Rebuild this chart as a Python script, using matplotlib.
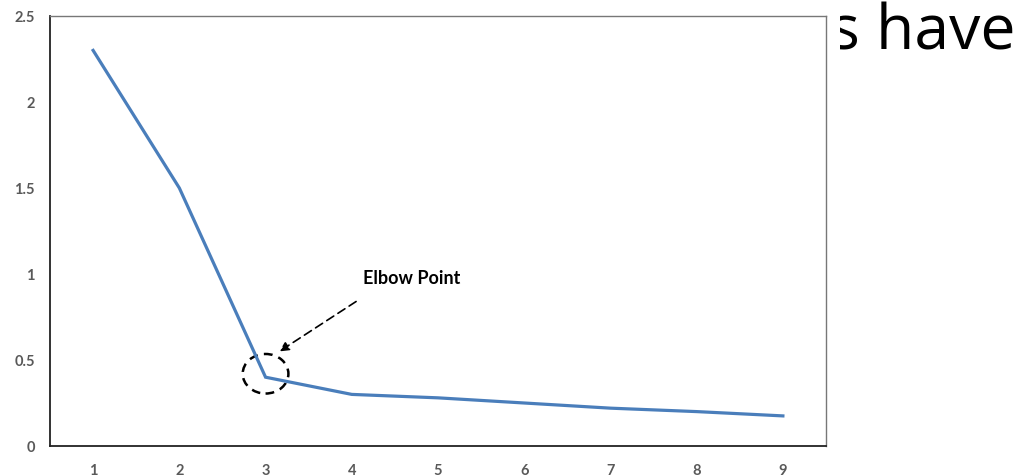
import matplotlib.pyplot as plt
from matplotlib.patches import Ellipse, Rectangle

# --------------------------------------
# DATA
# --------------------------------------

clusters = [1, 2, 3, 4, 5, 6, 7, 8, 9]
wcss = [2.3, 1.5, 0.4, 0.3, 0.28, 0.25, 0.22, 0.2, 0.175]
y_ticks = [0, 0.5, 1, 1.5, 2, 2.5]
y_tick_labels = ["0", "0.5", "1", "1.5", "2", "2.5"]

elbow_k = 3
elbow_wcss = 0.42

# --------------------------------------
# FIGURE
# --------------------------------------

fig = plt.figure(figsize=(10.25, 4.77), dpi=100)
fig.patch.set_facecolor("white")

# slide text sitting behind the chart image
fig.text(1015 / 1025, (477 - 49) / 477, "s have", fontsize=45, family="Open Sans",
         ha="right", va="baseline", color="black", zorder=-2)
fig.patches.append(Rectangle((0, 0), 840 / 1025, 1, transform=fig.transFigure,
                             facecolor="white", edgecolor="none", zorder=-1))

ax = fig.add_axes([50 / 1025, 30 / 477, 776 / 1025, 430 / 477])
ax.set_facecolor("white")

ax.plot(clusters, wcss, color="#4a7ebb", lw=2.3, solid_joinstyle="miter")

ax.set_xlim(0.5, 9.5)
ax.set_ylim(0, 2.5)
ax.set_xticks(clusters)
ax.set_yticks(y_ticks)
ax.set_yticklabels(y_tick_labels)
ax.tick_params(length=0, colors="#595959", labelsize=10.5)
ax.tick_params(axis="y", pad=11)
ax.tick_params(axis="x", pad=12)
for lab in ax.get_xticklabels() + ax.get_yticklabels():
    lab.set_family("Lato")
    lab.set_fontweight("bold")

for side in ["top", "right"]:
    ax.spines[side].set_color("#777777")
    ax.spines[side].set_linewidth(1.0)
for side in ["left", "bottom"]:
    ax.spines[side].set_color("#222222")
    ax.spines[side].set_linewidth(1.3)

# --------------------------------------
# ELBOW ANNOTATION
# --------------------------------------

ax.add_patch(Ellipse((elbow_k, elbow_wcss), 0.53, 0.23, fill=False,
                     edgecolor="black", lw=1.8, linestyle=(0, (3.5, 2.5))))

ax.annotate("", xy=(3.16, 0.55), xytext=(4.05, 0.84),
            arrowprops=dict(arrowstyle="-|>", color="black", lw=1.2,
                            linestyle=(0, (5, 3)), mutation_scale=14,
                            shrinkA=0, shrinkB=0))

ax.text(4.13, 0.98, "Elbow Point", fontsize=13, fontweight="bold",
        family="Lato", ha="left", va="center", color="black")

fig.savefig("out.png", dpi=100)
